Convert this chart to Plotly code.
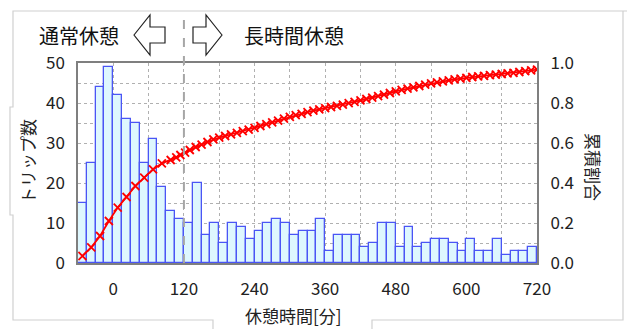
import plotly.graph_objects as go

# ---------------- data ----------------
bin_centers = [-52.5 + 15 * i for i in range(52)]
trip_counts = [15, 25, 44, 49, 42, 36, 35, 25, 31, 19, 13, 11,
               10, 20, 7, 10, 5, 10, 9, 6, 8, 10, 11, 10, 7, 8, 8, 11, 3, 7,
               7, 7, 4, 5, 10, 10, 4, 9, 4, 5, 6, 6, 5, 3, 6, 3, 3, 6, 2, 3, 3, 4]

cum_x = [-52.5, -37.5, -22.5, -7.5, 7.5, 22.5, 37.5, 52.5, 67.5, 82.5, 97.5, 107, 114, 122,
         130, 140, 150, 160, 170, 180, 190, 200, 210, 220, 230, 240, 250, 260, 270, 280,
         290, 300, 310, 320, 330, 340, 350, 360, 370, 380, 390, 400, 410, 420, 430, 440,
         450, 460, 470, 480, 490, 500, 510, 520, 530, 540, 550, 560, 570, 580, 590, 600,
         610, 620, 630, 640, 650, 660, 670, 680, 690, 700, 710, 720]
cum_ratio = [0.035, 0.078, 0.135, 0.21, 0.277, 0.33, 0.385, 0.427, 0.468, 0.498, 0.515, 0.528, 0.54, 0.552,
             0.565, 0.58, 0.592, 0.605, 0.618, 0.627, 0.635, 0.643, 0.651, 0.659, 0.667, 0.676, 0.685,
             0.694, 0.703, 0.712, 0.722, 0.731, 0.739, 0.746, 0.754, 0.762, 0.768, 0.774, 0.780,
             0.786, 0.792, 0.799, 0.806, 0.813, 0.820, 0.827, 0.834, 0.842, 0.850, 0.858, 0.866,
             0.872, 0.878, 0.885, 0.892, 0.898, 0.903, 0.908, 0.913, 0.918, 0.922, 0.926, 0.930,
             0.933, 0.936, 0.939, 0.942, 0.945, 0.948, 0.951, 0.955, 0.959, 0.963, 0.967]

x_tickvals = list(range(-60, 721, 60))
x_ticktext = [str(v) if v % 120 == 0 and v >= 0 else "" for v in x_tickvals]
y_tickvals = list(range(0, 51, 5))
y_ticktext = [str(v) if v % 10 == 0 else "" for v in y_tickvals]
y2_tickvals = [0, 0.2, 0.4, 0.6, 0.8, 1.0]
y2_ticktext = ["0.0", "0.2", "0.4", "0.6", "0.8", "1.0"]

FONT = "Noto Sans CJK JP"
OFF = 8                      # default page margin of the html body
W, H = 635 - OFF, 329 - OFF  # figure size so that it fills the window
L, R, T, B = 78, 537, 63, 263  # plot area in window pixels


def px(x):
    return (x - L) / (R - L)


def py(y):
    return (B - y) / (B - T)


fig = go.Figure()
fig.add_trace(go.Bar(
    x=bin_centers, y=trip_counts, width=15,
    marker=dict(color="#def7fe", line=dict(color="#4a55f5", width=1.3)),
    yaxis="y", showlegend=False,
))
fig.add_trace(go.Scatter(
    x=cum_x, y=cum_ratio, mode="lines+markers", yaxis="y2",
    line=dict(color="#ff0000", width=1.8),
    marker=dict(symbol="x-thin", size=8, line=dict(color="#ff0000", width=1.8)),
    showlegend=False,
))

grid = dict(showgrid=True, gridcolor="#b0b0b0", griddash="dot", gridwidth=1)

fig.update_layout(
    width=W, height=H,
    margin=dict(l=L - OFF, r=W - (R - OFF), t=T - OFF, b=H - (B - OFF)),
    paper_bgcolor="white", plot_bgcolor="white",
    font=dict(family=FONT, size=17, color="#222"),
    bargap=0,
    xaxis=dict(range=[-60, 720], tickvals=x_tickvals, ticktext=x_ticktext,
               ticks="outside", ticklen=10, tickcolor="rgba(0,0,0,0)",
               showline=True, linecolor="#7f7f7f", linewidth=1.5, mirror=True,
               zeroline=False, tickfont=dict(size=17, color="#222"), **grid),
    yaxis=dict(range=[0, 50], tickvals=y_tickvals, ticktext=y_ticktext,
               ticks="outside", ticklen=8, tickcolor="rgba(0,0,0,0)",
               showline=True, linecolor="#7f7f7f", linewidth=1.5, mirror=True,
               zeroline=False, tickfont=dict(size=17, color="#222"), **grid),
    yaxis2=dict(range=[0, 1.0], overlaying="y", side="right",
                tickvals=y2_tickvals, ticktext=y2_ticktext,
                ticks="outside", ticklen=9, tickcolor="rgba(0,0,0,0)",
                showgrid=False, zeroline=False, showline=False,
                tickfont=dict(size=17, color="#222")),
)

shapes = []
frame = dict(type="path", xref="paper", yref="paper",
             line=dict(color="#d0d0d0", width=1.2))
# outer frame with gaps for axis titles
shapes.append(dict(frame, path=f"M {px(213)} {py(329)} L {px(213)} {py(320)} L {px(13)} {py(320)} "
                               f"L {px(13)} {py(215)} L {px(10)} {py(215)} L {px(10)} {py(107)} "
                               f"L {px(13)} {py(107)} L {px(13)} {py(11)} L {px(635)} {py(11)}"))
shapes.append(dict(frame, path=f"M {px(372)} {py(329)} L {px(372)} {py(320)} L {px(623)} {py(320)} "
                               f"L {px(623)} {py(11)}"))
# dashed 120-minute separator
shapes.append(dict(type="line", xref="x", yref="paper", x0=120, x1=120,
                   y0=0, y1=py(12), line=dict(color="#a6a6a6", width=2, dash="dash"),
                   layer="above"))
# outline arrows
arr = dict(type="path", xref="paper", yref="paper", fillcolor="white",
           line=dict(color="#222", width=1.2))
lt, lh, le = 134, 150, 165
shapes.append(dict(arr, path=f"M {px(lt)} {py(35)} L {px(lh)} {py(15)} L {px(lh)} {py(27)} "
                             f"L {px(le)} {py(27)} L {px(le)} {py(43)} L {px(lh)} {py(43)} "
                             f"L {px(lh)} {py(55)} Z"))
rt, rh, re = 222, 206, 193
shapes.append(dict(arr, path=f"M {px(rt)} {py(35)} L {px(rh)} {py(15)} L {px(rh)} {py(27)} "
                             f"L {px(re)} {py(27)} L {px(re)} {py(43)} L {px(rh)} {py(43)} "
                             f"L {px(rh)} {py(55)} Z"))
fig.update_layout(shapes=shapes)

ann = dict(xref="paper", yref="paper", showarrow=False, xanchor="center", yanchor="middle")
fig.update_layout(annotations=[
    dict(ann, x=px(79), y=py(35), text="通常休憩", font=dict(family=FONT, size=20, color="#111")),
    dict(ann, x=px(294), y=py(35), text="長時間休憩", font=dict(family=FONT, size=20, color="#111")),
    dict(ann, x=px(293), y=py(315), text="休憩時間[分]", font=dict(family=FONT, size=17, color="#222")),
    dict(ann, x=px(27), y=py(162), text="トリップ数", textangle=-90,
         font=dict(family=FONT, size=17, color="#222")),
    dict(ann, x=px(594), y=py(167), text="累積割合", textangle=90,
         font=dict(family=FONT, size=17, color="#222")),
])

fig.write_html("out.html")
